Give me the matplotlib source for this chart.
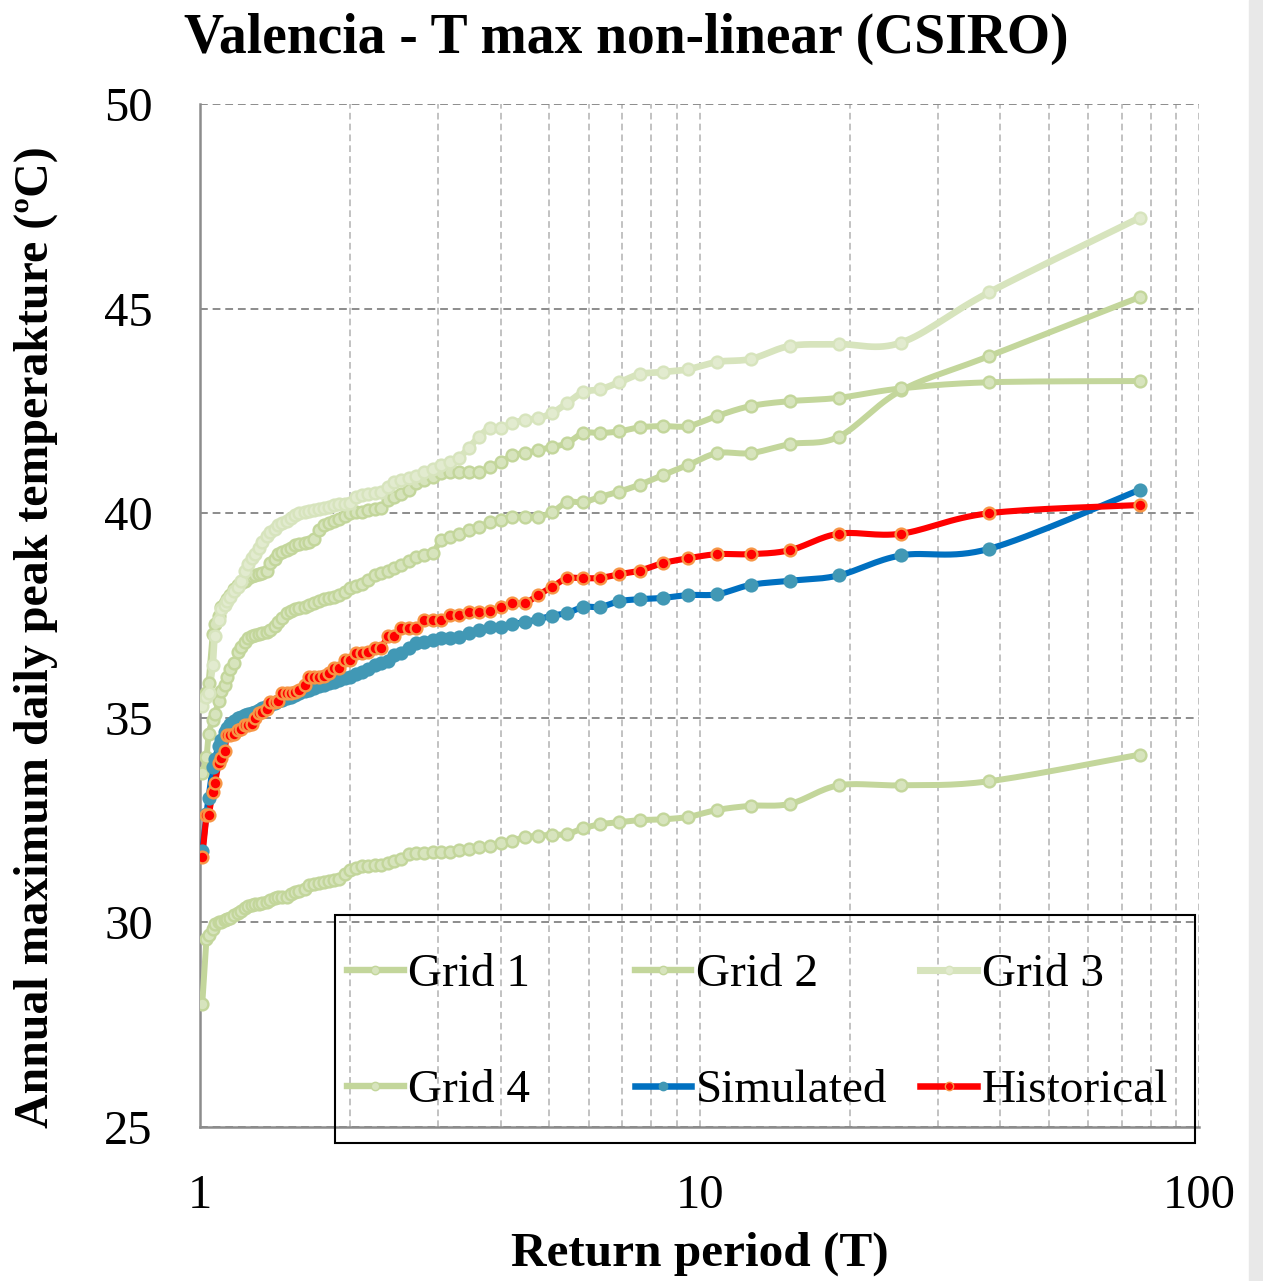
import numpy as np
import matplotlib
matplotlib.use("Agg")
import matplotlib.pyplot as plt
from matplotlib.lines import Line2D
from matplotlib.patches import Rectangle

plt.rcParams['font.family'] = ['Liberation Serif', 'DejaVu Serif']

# return periods (T), ascending
T = [1.01, 1.03, 1.04, 1.06, 1.07, 1.09, 1.10, 1.12, 1.13, 1.15,
     1.17, 1.19, 1.21, 1.23, 1.25, 1.27, 1.29, 1.31, 1.33, 1.36,
     1.38, 1.41, 1.43, 1.46, 1.49, 1.52, 1.55, 1.58, 1.62, 1.65,
     1.69, 1.73, 1.77, 1.81, 1.85, 1.90, 1.95, 2.00, 2.05, 2.11,
     2.17, 2.24, 2.30, 2.38, 2.45, 2.53, 2.62, 2.71, 2.81, 2.92,
     3.04, 3.17, 3.30, 3.45, 3.62, 3.80, 4.00, 4.22, 4.47, 4.75,
     5.07, 5.43, 5.85, 6.33, 6.91, 7.60, 8.44, 9.50, 10.86, 12.67,
     15.20, 19.00, 25.33, 38.00, 76.00]

grid1 = [33.65, 34.05, 34.6, 34.95, 35.1, 35.4, 35.65, 35.8, 36.0, 36.2,
         36.35, 36.6, 36.73, 36.85, 36.95, 37.0, 37.03, 37.05, 37.08, 37.1,
         37.15, 37.25, 37.35, 37.45, 37.55, 37.6, 37.65, 37.68, 37.7, 37.75,
         37.8, 37.85, 37.9, 37.93, 37.95, 38.0, 38.08, 38.17, 38.22, 38.27,
         38.37, 38.49, 38.54, 38.6, 38.66, 38.73, 38.84, 38.92, 38.98, 39.02,
         39.35, 39.42, 39.5, 39.58, 39.66, 39.78, 39.83, 39.9, 39.9, 39.91,
         40.03, 40.27, 40.27, 40.4, 40.53, 40.7, 40.93, 41.18, 41.47, 41.47,
         41.69, 41.87, 43.0, 43.84, 45.28]

grid2 = [35.45, 35.6, 35.85, 37.05, 37.3, 37.5, 37.7, 37.8, 37.9, 38.0,
         38.15, 38.25, 38.3, 38.35, 38.42, 38.46, 38.49, 38.52, 38.55, 38.6,
         38.78, 38.88, 39.0, 39.05, 39.1, 39.15, 39.22, 39.26, 39.28, 39.3,
         39.38, 39.6, 39.72, 39.75, 39.8, 39.86, 39.93, 40.0, 40.02, 40.04,
         40.07, 40.1, 40.13, 40.32, 40.4, 40.48, 40.57, 40.74, 40.81, 40.89,
         40.98, 41.0, 41.0, 41.0, 41.01, 41.13, 41.25, 41.42, 41.47, 41.54,
         41.62, 41.71, 41.96, 41.96, 42.0, 42.1, 42.13, 42.13, 42.38, 42.62,
         42.74, 42.82, 43.05, 43.2, 43.23]

grid3 = [35.3, 35.5, 35.6, 36.3, 37.0, 37.4, 37.65, 37.75, 37.85, 37.95,
         38.1, 38.2, 38.35, 38.6, 38.75, 38.9, 39.0, 39.15, 39.3, 39.45,
         39.55, 39.62, 39.7, 39.75, 39.8, 39.88, 39.95, 40.0, 40.02, 40.05,
         40.08, 40.1, 40.12, 40.15, 40.2, 40.22, 40.23, 40.25, 40.4, 40.45,
         40.48, 40.5, 40.52, 40.65, 40.76, 40.8, 40.85, 40.92, 41.0, 41.08,
         41.18, 41.25, 41.35, 41.6, 41.87, 42.08, 42.08, 42.2, 42.28, 42.32,
         42.45, 42.69, 42.96, 43.03, 43.2, 43.4, 43.45, 43.52, 43.7, 43.77,
         44.09, 44.13, 44.17, 45.4, 47.22]

grid4 = [28.0, 29.6, 29.7, 29.85, 29.95, 30.0, 30.02, 30.05, 30.08, 30.12,
         30.17, 30.22, 30.28, 30.35, 30.4, 30.42, 30.44, 30.45, 30.47, 30.5,
         30.55, 30.6, 30.61, 30.62, 30.63, 30.7, 30.75, 30.78, 30.82, 30.92,
         30.95, 30.97, 30.99, 31.01, 31.03, 31.06, 31.18, 31.27, 31.33, 31.37,
         31.39, 31.4, 31.41, 31.45, 31.5, 31.55, 31.67, 31.7, 31.7, 31.71,
         31.72, 31.73, 31.77, 31.79, 31.85, 31.87, 31.94, 32.0, 32.08, 32.12,
         32.14, 32.16, 32.3, 32.4, 32.45, 32.5, 32.52, 32.58, 32.75, 32.85,
         32.9, 33.35, 33.35, 33.45, 34.1]

simulated = [31.75, 32.65, 33.05, 33.8, 34.0, 34.3, 34.45, 34.65, 34.75, 34.85,
             34.92, 35.0, 35.03, 35.07, 35.1, 35.12, 35.15, 35.2, 35.24, 35.28,
             35.31, 35.35, 35.4, 35.43, 35.48, 35.52, 35.56, 35.6, 35.65, 35.68,
             35.72, 35.78, 35.8, 35.84, 35.87, 35.92, 35.97, 36.0, 36.08, 36.12,
             36.2, 36.29, 36.33, 36.38, 36.53, 36.58, 36.7, 36.83, 36.85, 36.9,
             36.95, 36.96, 36.98, 37.07, 37.15, 37.22, 37.23, 37.29, 37.34, 37.41,
             37.5, 37.56, 37.71, 37.71, 37.85, 37.9, 37.93, 38.0, 38.02, 38.25,
             38.35, 38.48, 38.97, 39.13, 40.57]

historical = [31.6, 32.62, 32.62, 33.19, 33.4, 33.9, 34.02, 34.2, 34.57, 34.57,
              34.6, 34.7, 34.72, 34.82, 34.82, 34.85, 35.0, 35.12, 35.15, 35.22,
              35.39, 35.39, 35.4, 35.6, 35.6, 35.6, 35.62, 35.68, 35.8, 36.0,
              36.0, 36.0, 36.02, 36.1, 36.22, 36.22, 36.41, 36.41, 36.58, 36.58,
              36.6, 36.7, 36.7, 37.0, 37.0, 37.19, 37.19, 37.2, 37.39, 37.39,
              37.4, 37.51, 37.52, 37.58, 37.58, 37.6, 37.7, 37.8, 37.8, 38.0,
              38.2, 38.41, 38.41, 38.42, 38.51, 38.6, 38.78, 38.9, 39.0, 39.0,
              39.1, 39.5, 39.5, 40.0, 40.2]


def smooth(x, y, n=16):
    # excel-like smoothed line: bezier through points, done in log-x space
    pts = np.column_stack([np.log10(x), y])
    P = np.vstack([pts[0], pts, pts[-1]])
    t = np.linspace(0, 1, n, endpoint=False)[:, None]
    out = []
    for i in range(1, len(P) - 2):
        p0, p1, p2, p3 = P[i - 1], P[i], P[i + 1], P[i + 2]
        c1 = p1 + (p2 - p0) / 6
        c2 = p2 - (p3 - p1) / 6
        out.append((1 - t) ** 3 * p1 + 3 * (1 - t) ** 2 * t * c1
                   + 3 * (1 - t) * t ** 2 * c2 + t ** 3 * p2)
    out.append(pts[-1:])
    arr = np.vstack(out)
    return 10 ** arr[:, 0], arr[:, 1]


mid = '#c3d69b'
light = '#d7e4bd'
series = [
    ("Grid 1", grid1, mid, '#d7e4bd', mid, 4.3),
    ("Grid 2", grid2, mid, '#d7e4bd', mid, 4.3),
    ("Grid 3", grid3, light, '#e2ebcf', light, 4.8),
    ("Grid 4", grid4, mid, '#d7e4bd', mid, 4.3),
    ("Simulated", simulated, '#0070c0', '#4198b5', '#4198b5', 4.4),
    ("Historical", historical, '#ff0000', '#ff0000', '#f79646', 4.4),
]

fig = plt.figure(figsize=(12.63, 12.81), dpi=100)
ax = fig.add_axes([0.1584, 0.1202, 0.7910, 0.7986])

handles = []
for name, vals, lc, mfc, mec, lw in series:
    xs, ys = smooth(T, vals)
    ax.plot(xs, ys, color=lc, lw=lw, solid_capstyle='round', zorder=3)
    ax.plot(T, vals, 'o', ms=8.5, mfc=mfc, mec=mec, mew=1.7, zorder=4)
    handles.append(Line2D([], [], color=lc, lw=lw + 0.3, marker='o', ms=6,
                          mfc=mfc, mec=mec, mew=1.0, label=name))

ax.set_xscale('log')
ax.set_xlim(1, 100)
ax.set_ylim(25, 50)
ax.set_yticks([25, 30, 35, 40, 45, 50])
ax.set_xticks([1, 10, 100])
ax.set_xticklabels(['1', '10', '100'])
ax.xaxis.set_minor_formatter(plt.NullFormatter())

ax.grid(True, which='major', axis='y', color='#8c8c8c', ls=(0, (4, 2.5)), lw=1.4)
ax.grid(True, which='both', axis='x', color='#b8b8b8', ls=(0, (4, 2.5)), lw=1.2)
ax.set_axisbelow(True)

for s in ['top', 'right']:
    ax.spines[s].set_visible(False)
for s in ['left', 'bottom']:
    ax.spines[s].set_color('#8c8c8c')
    ax.spines[s].set_linewidth(1.8)

ax.tick_params(axis='both', which='both', length=0, labelsize=35)
ax.tick_params(axis='y', pad=34)
ax.tick_params(axis='x', pad=34)

fig.text(0.4956, 0.970, "Valencia - T max non-linear (CSIRO)", ha='center',
         va='center', fontsize=40, fontweight='bold')
fig.text(0.554, 0.021, "Return period (T)", ha='center', va='center',
         fontsize=35.5, fontweight='bold')
fig.text(0.028, 0.5027, "Annual maximum daily peak temperakture (ºC)",
         ha='center', va='center', rotation=90, fontsize=34.5, fontweight='bold')

# legend box, one legend per column so the columns sit at fixed places
ax.add_patch(Rectangle((0.135, -0.0156), 0.861, 0.2228, transform=ax.transAxes,
                       fill=False, ec='black', lw=1.5, clip_on=False, zorder=6))
columns = [(0.147, [0, 3]), (0.435, [1, 4]), (0.721, [2, 5])]
for k, (x0, idx) in enumerate(columns):
    leg = ax.legend([handles[i] for i in idx], [handles[i].get_label() for i in idx],
                    loc='upper left', bbox_to_anchor=(x0, 0.170), frameon=False,
                    fontsize=34, handlelength=1.2, handletextpad=0.1,
                    labelspacing=1.55, borderaxespad=0, borderpad=0)
    leg.set_zorder(7)
    if k < len(columns) - 1:
        ax.add_artist(leg)

# light strip at right edge of the page
fig.patches.append(Rectangle((0.989, 0), 0.011, 1, transform=fig.transFigure,
                             color='#e8e8e8', zorder=0))

fig.savefig("out.png", dpi=100)
